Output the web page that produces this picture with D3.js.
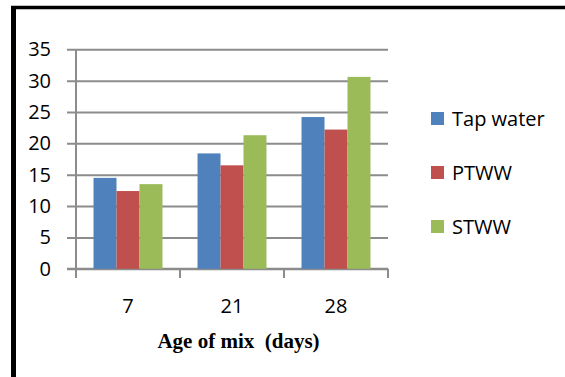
<!DOCTYPE html>
<html><head><meta charset="utf-8">
<script src="https://cdn.jsdelivr.net/npm/d3@7"></script>
<style>
body{margin:0;background:#fff;}
svg{display:block;}
</style></head>
<body><svg id="c" width="565" height="377"></svg>
<script>
const categories = ["7", "21", "28"];
const seriesNames = ["Tap water", "PTWW", "STWW"];
const tapWater = [14.5, 18.4, 24.2];
const ptww = [12.4, 16.5, 22.2];
const stww = [13.5, 21.3, 30.6];
const yTicks = [0, 5, 10, 15, 20, 25, 30, 35];
const colors = ["#4F81BD", "#C0504D", "#9BBB59"];
const xTitle = "Age of mix  (days)";

const seriesValues = [tapWater, ptww, stww];
const svg = d3.select("#c");
const sans = "'Open Sans', sans-serif";

// frame
svg.append("line").attr("x1",13.5).attr("x2",13.5).attr("y1",6).attr("y2",377).attr("stroke","#000").attr("stroke-width",5);
svg.append("line").attr("x1",11).attr("x2",565).attr("y1",7.5).attr("y2",7.5).attr("stroke","#000").attr("stroke-width",3.5);

const x0 = d3.scaleBand().domain(categories).range([76, 388]).paddingInner(0.337).paddingOuter(0.1685);
const x1 = d3.scaleBand().domain(seriesNames).range([0, x0.bandwidth()]);
const y = d3.scaleLinear().domain([0, 35]).range([268.8, 49.3]);
const gridColor = "#8c8c8c";

// gridlines + y labels
const yAxis = svg.append("g").attr("transform","translate(76,0)")
  .call(d3.axisLeft(y).tickValues(yTicks).tickSize(9).tickPadding(16).tickFormat(d3.format("d")));
yAxis.select(".domain").remove();
yAxis.selectAll(".tick line").attr("stroke",gridColor).attr("stroke-width",2).attr("x2",312).attr("x1",-9);
yAxis.selectAll(".tick text").attr("font-family",sans).attr("font-size",20).attr("fill","#000");

// y axis line
svg.append("line").attr("x1",76).attr("x2",76).attr("y1",y(35)).attr("y2",278).attr("stroke",gridColor).attr("stroke-width",2);
// x axis ticks at boundaries
const bounds = [76].concat(categories.map(c => x0(c) - x0.step()*x0.paddingOuter() + x0.step()));
svg.selectAll(".xt").data(bounds).enter().append("line")
  .attr("x1",d=>d).attr("x2",d=>d).attr("y1",y(0)).attr("y2",278).attr("stroke",gridColor).attr("stroke-width",2);
svg.append("line").attr("x1",67).attr("x2",388).attr("y1",y(0)).attr("y2",y(0)).attr("stroke",gridColor).attr("stroke-width",2);

// bars
const groups = svg.selectAll(".grp").data(categories).enter().append("g")
  .attr("transform", c => `translate(${x0(c)},0)`);
groups.selectAll("rect").data((c,i) => seriesNames.map((s,j) => ({s, j, v: seriesValues[j][i]})))
  .enter().append("rect")
  .attr("x", d => x1(d.s)).attr("width", x1.bandwidth())
  .attr("y", d => y(d.v)).attr("height", d => y(0) - y(d.v))
  .attr("fill", d => colors[d.j]);

// x labels
svg.selectAll(".xl").data(categories).enter().append("text")
  .attr("x", c => x0(c) + x0.bandwidth()/2).attr("y", 313)
  .attr("text-anchor","middle").attr("font-family",sans).attr("font-size",20).text(c=>c);

// x title
svg.append("text").attr("x",238.5).attr("y",348).attr("text-anchor","middle")
  .attr("font-family","'Liberation Serif', 'Times New Roman', serif").attr("font-weight","bold").attr("font-size",21)
  .attr("xml:space","preserve").style("white-space","pre").text(xTitle);

// legend
const leg = svg.selectAll(".lg").data(seriesNames).enter().append("g")
  .attr("transform",(d,i)=>`translate(431,${112 + i*54})`);
leg.append("rect").attr("width",13).attr("height",13).attr("fill",(d,i)=>colors[i]);
leg.append("text").attr("x",21).attr("y",13.5).attr("font-family",sans).attr("font-size",20).text(d=>d);
</script></body></html>
